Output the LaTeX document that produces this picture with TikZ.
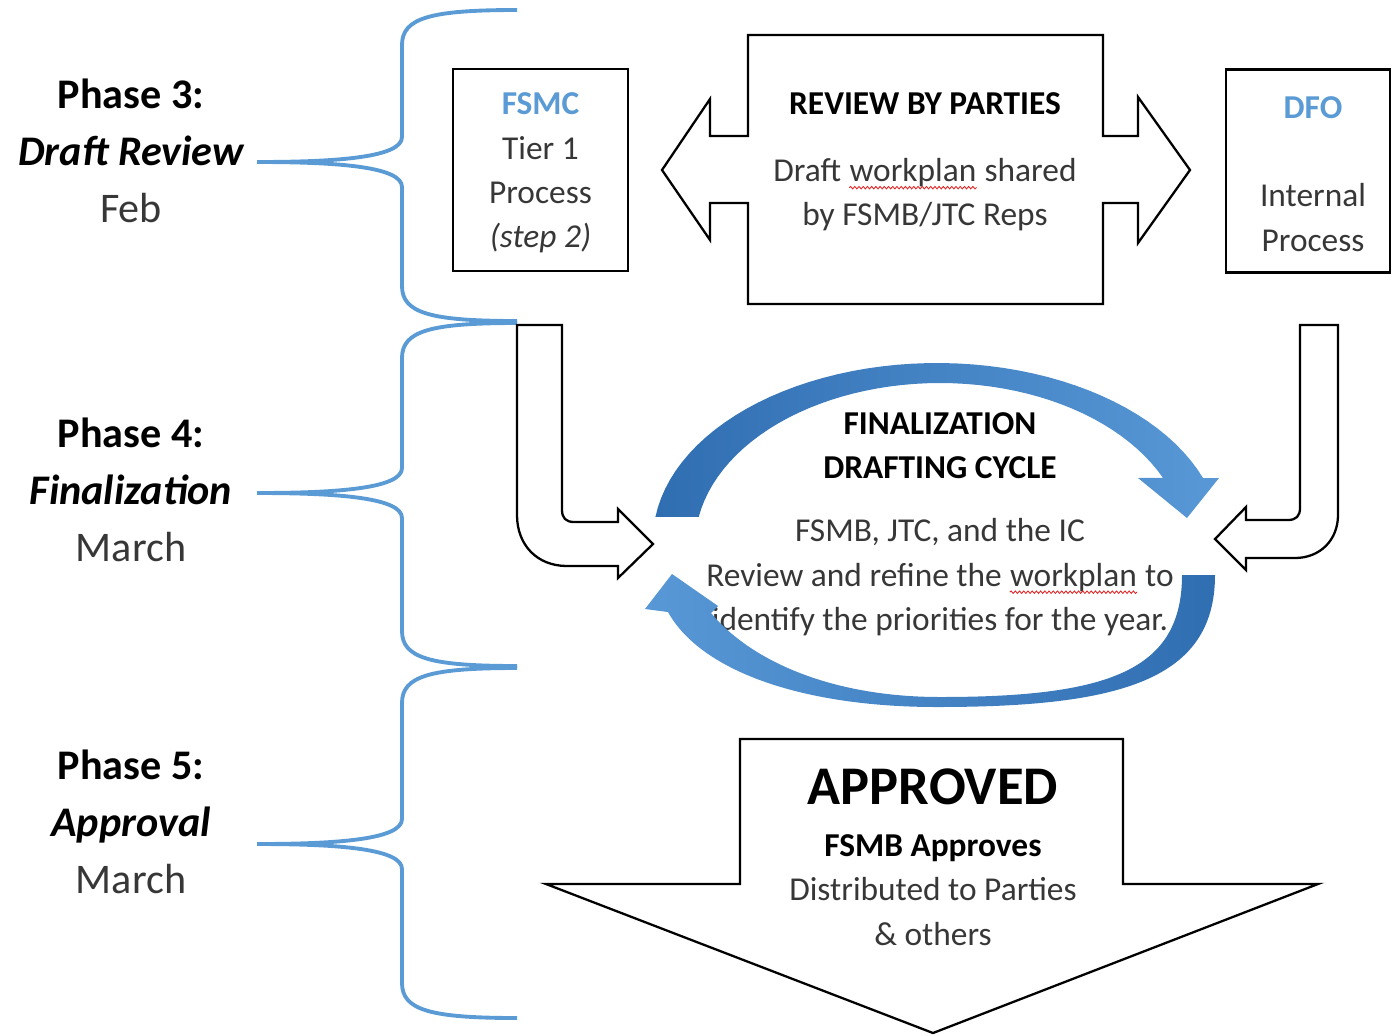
\documentclass[tikz,border=0pt]{standalone}
\usepackage{fontspec}
\setmainfont{Carlito}
\usepackage{tikz}
\usetikzlibrary{calc}
\usetikzlibrary{decorations.pathmorphing}
\definecolor{braceblue}{RGB}{91,155,213}
\definecolor{ringdark}{RGB}{48,110,178}
\definecolor{ringlight}{RGB}{88,152,214}
\definecolor{textgray}{RGB}{55,55,55}
\definecolor{squig}{RGB}{225,40,40}
\tikzset{
    phase/.style={align=center,font=\fontsize{24}{32.3}\selectfont,text=textgray},
    body/.style={align=center,font=\fontsize{19}{25.2}\selectfont,text=textgray},
    blockline/.style={draw=black,line width=1.3pt,fill=white},
    brace/.style={draw=braceblue,line width=2.2pt}
}
\newcommand{\spell}[1]{\tikz[baseline=(sw.base)]{\node[inner sep=0pt,anchor=base] (sw) {#1};\draw[squig,line width=0.5pt,decorate,decoration={snake,amplitude=0.7pt,segment length=2.4pt}] ([yshift=-3.4pt]sw.base west) -- ([yshift=-3.4pt]sw.base east);}}

\begin{document}
\begin{tikzpicture}[x=0.02cm,y=-0.02cm]
\useasboundingbox (0,0) rectangle (1392,1035);
\foreach \t/\m/\b/\ly/\p/\what/\when in {10/162/321/151/3/Draft Review/Feb, 323/493/666/490/4/Finalization/March, 668/844/1018/822/5/Approval/March}{
    \draw[brace] (517,\t) .. controls (430,\t) and (402,\t+8) .. (402,\t+35) -- (402,\m-25) .. controls (402,\m-5) and (340,\m) .. (257,\m) .. controls (340,\m) and (402,\m+5) .. (402,\m+25) -- (402,\b-35) .. controls (402,\b-8) and (430,\b) .. (517,\b);
    \node[phase] (phase\p) at (131,\ly) {\textbf{\color{black}Phase \p:}\\\textbf{\textit{\color{black}\what}}\\\when};
}

\node[blockline,body,minimum width=3.5cm,minimum height=4.04cm,inner sep=0pt] (fsmc) at (540.5,170) {};
\node[body] (fsmctext) at (540.5,173) {\textcolor{braceblue}{\textbf{FSMC}}\\Tier 1\\Process\\\textit{(step 2)}};
\node[blockline,body,minimum width=3.28cm,minimum height=4.06cm,inner sep=0pt] (dfo) at (1308,171) {};
\node[body] (dfotext) at (1313,174) {\textcolor{braceblue}{\textbf{DFO}}\\[25.2pt]Internal\\Process};

\draw[blockline] (748,35) -- (1103,35) -- (1103,136) -- (1138,136) -- (1138,97) -- (1190,170) -- (1138,243) -- (1138,203) -- (1103,203) -- (1103,304) -- (748,304) -- (748,203) -- (710,203) -- (710,240) -- (662,170) -- (710,99) -- (710,136) -- (748,136) -- cycle;
\node[body] (review) at (925,162) {\textbf{\color{black}REVIEW BY PARTIES}\\[13pt]Draft \spell{workplan} shared\\by FSMB/JTC Reps};

\draw[blockline] (517,325) -- (562,325) -- (562,510) .. controls (562,518) and (566,522) .. (574,522) -- (618,522) -- (618,509) -- (653,544) -- (618,578) -- (618,566) -- (567,566) .. controls (537,566) and (517,545) .. (517,515) -- cycle;
\draw[blockline] (1338,325) -- (1300,325) -- (1300,508) .. controls (1300,516) and (1296,520) .. (1288,520) -- (1246,520) -- (1246,507) -- (1215,539) -- (1246,570) -- (1246,558) -- (1295,558) .. controls (1320,558) and (1338,540) .. (1338,515) -- cycle;

\node[body] (finalize) at (940,524) {\textbf{\color{black}FINALIZATION}\\\textbf{\color{black}DRAFTING CYCLE}\\[11pt]FSMB, JTC, and the IC\\Review and refine the \spell{workplan} to\\identify the priorities for the year.};

\shade[left color=ringdark,right color=ringlight]
  plot[domain=172.5:20.5,samples=50] ({937+284*cos(\x)},{540-177*sin(\x)})
  -- (1219,478) -- (1187,518) -- (1138,478)
  -- plot[domain=24.5:170,samples=50] ({940+245*cos(\x)},{545-162*sin(\x)})
  -- cycle;
\shade[left color=ringlight,right color=ringdark]
  (1215,575) .. controls (1215,680) and (1120,707) .. (937,707) .. controls (800,707) and (700,670) .. (668,612)
  -- (645,609) -- (672,574) -- (718,606) -- (711,613)
  .. controls (750,660) and (830,697) .. (940,697) .. controls (1110,697) and (1182,670) .. (1182,575) -- cycle;

\draw[blockline] (740,739) -- (1123,739) -- (1123,884) -- (1318,884) -- (933,1033) -- (546,884) -- (740,884) -- cycle;
\node[font=\fontsize{31}{37}\selectfont\bfseries] (approved) at (933,787) {APPROVED};
\node[body] (distrib) at (933,890) {\textbf{\color{black}FSMB Approves}\\Distributed to Parties\\\& others};
\end{tikzpicture}
\end{document}
